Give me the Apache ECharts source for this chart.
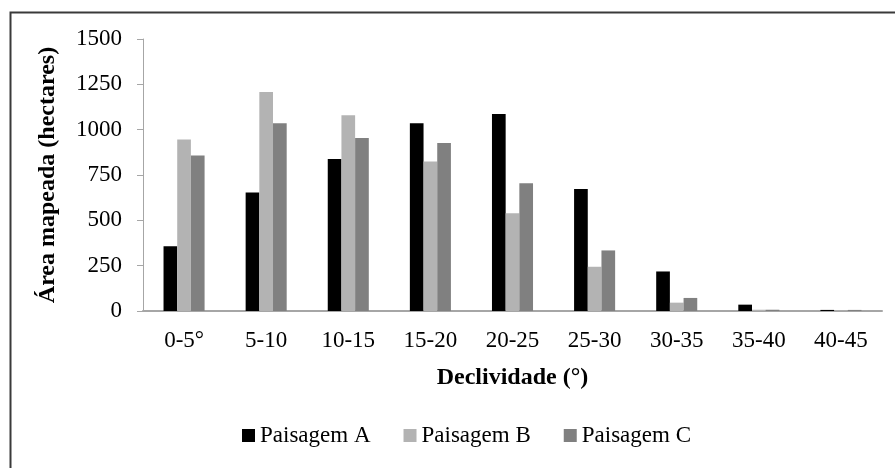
<!DOCTYPE html>
<html>
<head>
    <meta charset="utf-8">
    <style type="text/css">
        *, html, body { margin: 0; padding: 0; }
        html, body, #container { width: 895px; height: 468px; background: #fff; }
    </style>
    <script type="text/javascript" src="https://cdn.jsdelivr.net/npm/echarts@6/dist/echarts.min.js"></script>
</head>
<body>
<div id="container"></div>
<script type="text/javascript">
    // classes de declividade
    let categories = ["0-5°", "5-10", "10-15", "15-20", "20-25", "25-30", "30-35", "35-40", "40-45"];
    let paisagemA = [357, 653, 838, 1036, 1087, 673, 218, 35, 6];
    let paisagemB = [946, 1208, 1080, 825, 539, 244, 46, 7, 2];
    let paisagemC = [858, 1036, 954, 926, 704, 334, 72, 7, 6];
    let yTicks = [0, 250, 500, 750, 1000, 1250, 1500];

    let font = "Liberation Serif";
    let myChart = echarts.init(document.getElementById("container"));

    function bar(name, data, color) {
        return {
            name: name,
            type: "bar",
            data: data,
            barGap: "0%",
            barCategoryGap: "50%",
            itemStyle: { color: color },
            emphasis: { disabled: true }
        };
    }

    let option = {
        animation: false,
        textStyle: { fontFamily: font },
        graphic: [{
            type: "polyline",
            shape: { points: [[10.5, 468], [10.5, 12.5], [895, 12.5]] },
            style: { stroke: "#3a3a3a", lineWidth: 2, fill: null }
        }],
        grid: { left: 143, right: 13, top: 39, bottom: 157 },
        legend: {
            bottom: 16,
            left: 237,
            itemWidth: 13,
            itemHeight: 13,
            itemGap: 33,
            icon: "rect",
            textStyle: { fontFamily: font, fontSize: 23, color: "#000" },
            data: ["Paisagem A", "Paisagem B", "Paisagem C"]
        },
        xAxis: {
            type: "category",
            data: categories,
            name: "Declividade (°)",
            nameLocation: "middle",
            nameGap: 55,
            nameTextStyle: { fontFamily: font, fontSize: 24, fontWeight: "bold", color: "#000" },
            axisLine: { lineStyle: { color: "#a6a6a6", width: 2 } },
            axisTick: { show: false },
            axisLabel: { fontFamily: font, fontSize: 23, color: "#000", margin: 18 }
        },
        yAxis: {
            type: "value",
            min: yTicks[0],
            max: yTicks[yTicks.length - 1],
            interval: 250,
            name: "Área mapeada (hectares)",
            nameLocation: "middle",
            nameGap: 83,
            nameTextStyle: { fontFamily: font, fontSize: 24, fontWeight: "bold", color: "#000" },
            axisLine: { show: true, lineStyle: { color: "#a6a6a6", width: 1 } },
            axisTick: { show: true, length: 6, lineStyle: { color: "#a6a6a6" } },
            splitLine: { show: false },
            axisLabel: {
                fontFamily: font, fontSize: 23, color: "#000", margin: 21,
                formatter: function (v) { return String(v); }
            }
        },
        series: [
            bar("Paisagem A", paisagemA, "#000000"),
            bar("Paisagem B", paisagemB, "#b3b3b3"),
            bar("Paisagem C", paisagemC, "#808080")
        ]
    };
    myChart.setOption(option);
</script>
</body>
</html>
